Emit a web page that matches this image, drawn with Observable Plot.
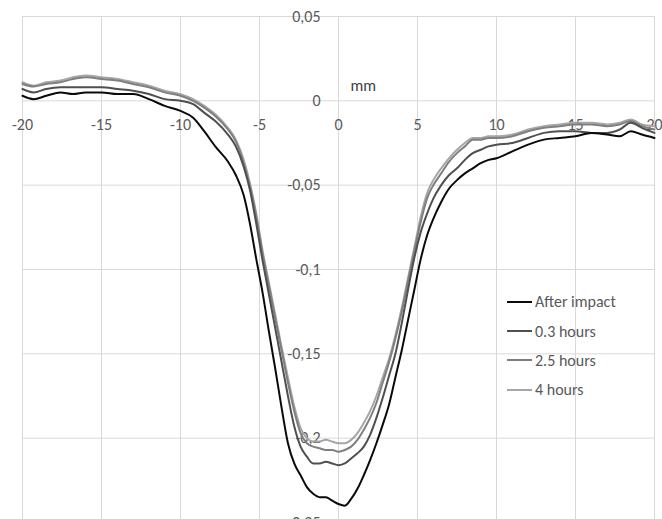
<!DOCTYPE html>
<html>
<head>
<meta charset="utf-8">
<script src="https://cdn.jsdelivr.net/npm/d3@7"></script>
<script src="https://cdn.jsdelivr.net/npm/@observablehq/plot@0.6"></script>
<style>
  html, body { margin: 0; padding: 0; background: #fff; }
  #wrap { position: relative; width: 662px; height: 519px; overflow: hidden; font-family: Carlito, Lato, sans-serif; }
  #legend { position: absolute; left: 507px; top: 287px; color: #595959; font-size: 16px; }
  .item { display: flex; align-items: center; height: 29.4px; }
  .swatch { width: 25px; height: 2px; margin-right: 3px; }
</style>
</head>
<body>
<div id="wrap"><div id="legend"></div></div>
<script>
const seriesNames = ["After impact", "0.3 hours", "2.5 hours", "4 hours"];
const seriesColors = ["#0a0a0a", "#4f4f4f", "#7f7f7f", "#a6a6a6"];

const xs = [-20,-19.3,-18.5,-17.6,-16.8,-16,-15,-14,-13,-12,-11,-10,-9.2,-8.5,-7.8,-7,-6.5,-6,-5.6,-5.2,-4.8,-4.4,-4,-3.6,-3.2,-2.8,-2.4,-2,-1.6,-1.2,-0.8,-0.4,0,0.4,0.8,1.2,1.6,2,2.4,2.8,3.2,3.6,4,4.4,4.8,5.2,5.6,6,6.5,7,7.5,8,8.5,9,9.5,10,11,12,13,14,15,16,17,17.8,18.5,19.2,20];

const afterImpact = [0.003,0.001,0.003,0.005,0.004,0.005,0.005,0.004,0.004,0.001,
  -0.003,-0.006,-0.010,-0.018,-0.027,-0.036,-0.044,-0.056,-0.073,-0.094,
  -0.114,-0.137,-0.159,-0.182,-0.203,-0.215,-0.222,-0.229,-0.233,-0.235,
  -0.235,-0.237,-0.239,-0.240,-0.236,-0.230,-0.222,-0.213,-0.203,-0.192,
  -0.180,-0.164,-0.148,-0.130,-0.112,-0.094,-0.080,-0.070,-0.060,-0.052,
  -0.047,-0.043,-0.040,-0.037,-0.035,-0.034,-0.030,-0.026,-0.023,-0.022,
  -0.021,-0.019,-0.020,-0.021,-0.018,-0.020,-0.022];

const hours03 = [0.007,0.005,0.007,0.008,0.008,0.008,0.008,0.007,0.006,0.004,
  0.001,0.000,-0.002,-0.007,-0.012,-0.020,-0.027,-0.039,-0.053,-0.073,
  -0.095,-0.115,-0.135,-0.155,-0.175,-0.193,-0.205,-0.211,-0.215,-0.215,
  -0.214,-0.215,-0.216,-0.215,-0.212,-0.209,-0.205,-0.198,-0.188,-0.176,
  -0.163,-0.150,-0.132,-0.112,-0.093,-0.078,-0.067,-0.058,-0.050,-0.044,
  -0.040,-0.035,-0.031,-0.029,-0.027,-0.026,-0.025,-0.022,-0.019,-0.018,
  -0.018,-0.019,-0.019,-0.017,-0.013,-0.016,-0.019];

const hours25 = [0.010,0.0085,0.010,0.011,0.013,0.014,0.013,0.012,0.010,0.008,
  0.005,0.003,0.000,-0.004,-0.009,-0.017,-0.024,-0.037,-0.051,-0.069,
  -0.091,-0.110,-0.129,-0.148,-0.167,-0.184,-0.197,-0.203,-0.205,-0.206,
  -0.207,-0.207,-0.208,-0.207,-0.205,-0.201,-0.195,-0.188,-0.179,-0.167,
  -0.155,-0.141,-0.125,-0.107,-0.089,-0.072,-0.058,-0.050,-0.043,-0.036,
  -0.031,-0.027,-0.023,-0.023,-0.022,-0.022,-0.021,-0.018,-0.016,-0.015,
  -0.014,-0.014,-0.015,-0.014,-0.012,-0.015,-0.017];

const hours4 = [0.011,0.009,0.011,0.012,0.014,0.015,0.014,0.013,0.011,0.009,
  0.006,0.004,0.001,-0.003,-0.008,-0.016,-0.023,-0.035,-0.049,-0.067,
  -0.089,-0.108,-0.127,-0.146,-0.164,-0.181,-0.194,-0.200,-0.202,-0.202,
  -0.201,-0.202,-0.203,-0.203,-0.201,-0.197,-0.191,-0.184,-0.175,-0.164,
  -0.153,-0.139,-0.123,-0.105,-0.087,-0.069,-0.055,-0.047,-0.040,-0.034,
  -0.029,-0.025,-0.022,-0.022,-0.021,-0.021,-0.020,-0.017,-0.015,-0.014,
  -0.013,-0.013,-0.014,-0.013,-0.011,-0.014,-0.015];

const xTicks = [-20,-15,-10,-5,0,5,10,15,20];
const xTickLabels = ["-20","-15","-10","-5","0","5","10","15","20"];
const yTicks = [-0.25,-0.2,-0.15,-0.1,-0.05,0,0.05];
const yTickLabels = ["-0,25","-0,2","-0,15","-0,1","-0,05","0","0,05"];
const axisTitle = "mm";

const allSeries = [afterImpact, hours03, hours25, hours4];
const data = [];
allSeries.forEach((vals, si) => {
  vals.forEach((v, i) => data.push({series: seriesNames[si], x: xs[i], y: v}));
});
// draw light lines first so black is on top
const drawOrder = [3, 2, 1, 0].map(i => seriesNames[i]);

const textColor = "#595959";
const gridColor = "#d9d9d9";

const chart = Plot.plot({
  width: 662,
  height: 519,
  marginLeft: 22,
  marginRight: 8,
  marginTop: 16,
  marginBottom: 0,
  style: {fontFamily: "Carlito, Lato, sans-serif", fontSize: "16px", background: "#fff", overflow: "visible"},
  x: {domain: [-20, 20], range: [22, 654], axis: null},
  y: {domain: [-0.25, 0.05], range: [522, 16], axis: null},
  color: {domain: seriesNames, range: seriesColors},
  marks: [
    Plot.ruleX(xTicks, {stroke: gridColor, strokeWidth: 1}),
    Plot.ruleY(yTicks, {stroke: gridColor, strokeWidth: 1}),
    Plot.text(xTicks, {x: d => d, y: 0, dy: 24, text: (d, i) => xTickLabels[i], fill: textColor, fontSize: 16}),
    Plot.text(yTicks, {x: 0, y: d => d, dx: -18, textAnchor: "end", text: (d, i) => yTickLabels[i], fill: textColor, fontSize: 16}),
    Plot.text([axisTitle], {x: 0, y: 0, dx: 12, dy: -15, textAnchor: "start", text: d => d, fill: "#404040", fontSize: 16}),
    ...drawOrder.map(name => Plot.line(data.filter(d => d.series === name), {
      x: "x", y: "y", stroke: "series", strokeWidth: 2, curve: "monotone-x"
    }))
  ]
});

const wrap = document.getElementById("wrap");
wrap.insertBefore(chart, wrap.firstChild);

const legend = document.getElementById("legend");
seriesNames.forEach((name, i) => {
  const row = document.createElement("div");
  row.className = "item";
  const sw = document.createElement("div");
  sw.className = "swatch";
  sw.style.background = seriesColors[i];
  const label = document.createElement("span");
  label.textContent = name;
  row.appendChild(sw);
  row.appendChild(label);
  legend.appendChild(row);
});
</script>
</body>
</html>
